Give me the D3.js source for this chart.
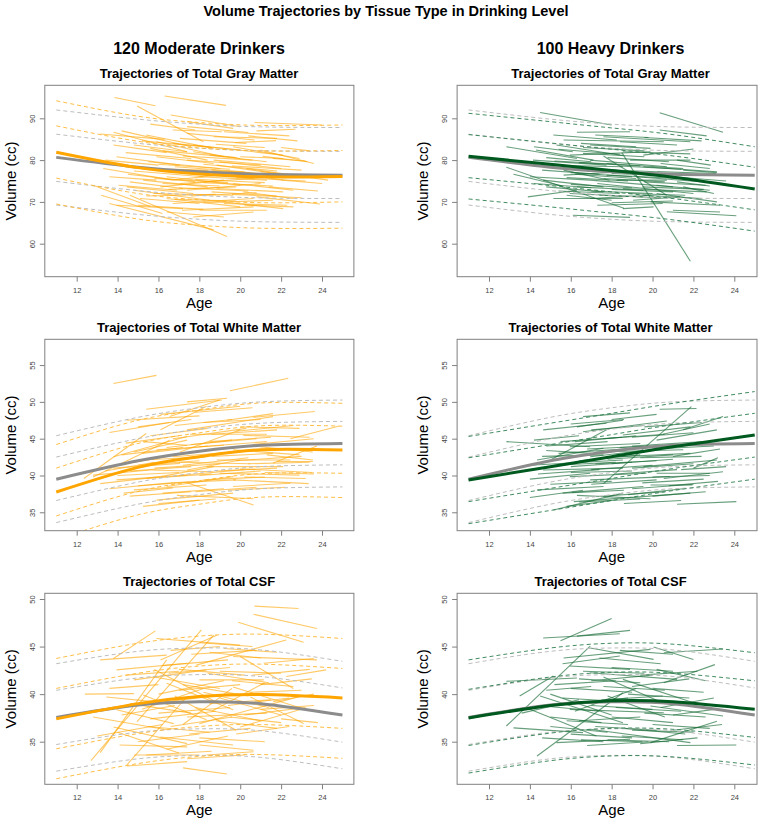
<!DOCTYPE html>
<html><head><meta charset="utf-8">
<script src="https://cdn.jsdelivr.net/npm/d3@7"></script>
<style>body{margin:0;background:#fff} svg{display:block} text{font-family:"Liberation Sans",Arial,Helvetica,sans-serif}</style>
</head><body><svg id="c" width="771" height="824"></svg>
<script>
// ---------- DATA ----------
const mainTitle = "Volume Trajectories by Tissue Type in Drinking Level";
const groupTitles = ["120 Moderate Drinkers", "100 Heavy Drinkers"];
const tissueTitles = ["Trajectories of Total Gray Matter", "Trajectories of Total White Matter", "Trajectories of Total CSF"];
const xTicks = [12, 14, 16, 18, 20, 22, 24];
const yTicksGM = [60, 70, 80, 90];
const yTicksWM = [35, 40, 45, 50, 55];
const yTicksCSF = [35, 40, 45, 50];
const curveAges = [11, 15, 18, 21, 25];

// reference (gray) mean and dashed bands per tissue
const gmRefMean = [80.66, 78.3, 77.2, 76.6, 76.4];
const gmRefBands = [[92.0, 89.8, 88.6, 87.95, 87.8], [86.2, 84.0, 82.85, 82.25, 82.1], [74.9, 72.7, 71.55, 70.95, 70.8], [69.25, 67.0, 65.85, 65.25, 65.1]];
const wmRefMean = [39.5, 42.0, 43.3, 44.1, 44.35];
const wmRefBands = [[45.4, 47.9, 49.2, 50.0, 50.25], [42.5, 45.0, 46.3, 47.1, 47.35], [36.6, 39.1, 40.4, 41.2, 41.45], [33.6, 36.1, 37.4, 38.2, 38.45]];
const csfRefMean = [37.55, 38.85, 39.2, 39.0, 37.8];
const csfRefBands = [[43.2, 44.5, 44.85, 44.65, 43.45], [40.4, 41.7, 42.05, 41.85, 40.65], [34.7, 36.0, 36.35, 36.15, 34.95], [31.9, 33.2, 33.55, 33.35, 32.15]];

// group means and dashed bands
const gmModMean = [81.9, 78.2, 76.7, 76.0, 76.1];
const gmModBands = [[94.2, 90.5, 89.0, 88.3, 88.4], [88.2, 84.5, 82.9, 82.2, 82.3], [75.7, 72.0, 70.5, 69.8, 70.0], [69.5, 65.9, 64.4, 63.7, 63.7]];
const gmHvyMean = [80.9, 79.0, 77.5, 75.9, 73.1];
const gmHvyBands = [[91.2, 89.2, 87.7, 86.1, 83.2], [86.1, 84.1, 82.6, 81.0, 78.3], [75.8, 73.9, 72.4, 70.8, 68.1], [70.7, 68.8, 67.3, 65.7, 63.0]];
const wmModMean = [37.75, 41.1, 42.55, 43.5, 43.45];
const wmModBands = [[44.2, 47.5, 48.9, 49.85, 49.8], [41.0, 44.35, 45.8, 46.75, 46.7], [34.5, 37.85, 39.3, 40.25, 40.3], [31.3, 34.65, 36.1, 37.05, 37.0]];
const wmHvyMean = [39.4, 41.2, 42.55, 43.9, 45.5];
const wmHvyBands = [[45.3, 47.1, 48.45, 49.8, 51.4], [42.4, 44.2, 45.55, 46.9, 48.45], [36.45, 38.25, 39.6, 40.95, 42.5], [33.45, 35.25, 36.6, 37.95, 39.5]];
const csfModMean = [37.4, 39.0, 39.75, 39.95, 39.6];
const csfModBands = [[43.75, 45.35, 46.1, 46.3, 45.85], [40.6, 42.2, 42.95, 43.15, 42.7], [34.25, 35.85, 36.6, 36.8, 36.4], [31.1, 32.7, 33.45, 33.65, 33.25]];
const csfHvyMean = [37.5, 38.8, 39.3, 39.2, 38.4];
const csfHvyBands = [[43.6, 44.85, 45.35, 45.25, 44.35], [40.5, 41.8, 42.3, 42.2, 41.4], [34.6, 35.9, 36.4, 36.3, 35.45], [31.7, 33.0, 33.5, 33.4, 32.55]];

// individual trajectories: [age1, vol1, age2, vol2]
const gmModSegs = [
[13.85,95.0,15.85,93.0],[16.3,95.35,19.3,93.1],[14.95,92.95,18.2,84.4],[16.6,90.8,20.0,88.0],[17.4,89.2,19.65,87.6],
[20.7,89.0,24.0,88.4],[20.8,87.0,22.7,87.4],[16.7,87.2,19.1,86.8],[17.4,86.4,20.7,84.8],[19.75,84.2,21.75,84.65],
[13.15,86.25,16.3,84.95],[13.8,86.65,17.4,82.0],[14.2,87.0,17.6,83.2],[15.4,86.0,18.7,82.8],[15.9,84.4,19.2,80.8],
[16.7,84.0,20.0,82.4],[17.7,83.6,22.1,81.2],[19.65,83.2,22.9,80.4],[21.0,82.4,23.6,79.2],[21.1,80.9,23.3,79.6],
[20.3,78.0,24.3,75.2],[13.95,80.8,17.05,78.8],[14.1,78.8,18.0,76.8],[15.1,78.0,18.4,77.6],[13.3,78.0,16.7,75.2],
[15.9,80.8,18.7,79.2],[17.4,80.0,21.0,78.8],[18.5,81.2,21.3,79.6],[18.85,78.8,22.9,76.0],[19.35,77.2,22.1,75.2],
[18.0,76.0,21.3,75.2],[17.05,74.4,20.65,75.6],[15.25,75.2,18.4,73.6],[14.45,73.6,17.7,72.0],[13.6,76.0,15.9,75.2],
[12.8,74.0,15.6,68.9],[13.2,71.6,16.2,67.2],[14.8,72.8,18.5,70.4],[15.75,72.0,19.65,71.6],[16.4,70.8,20.0,68.8],
[16.7,69.6,20.65,70.8],[17.15,68.0,20.65,68.8],[17.7,66.4,20.65,67.6],[13.95,69.2,17.2,68.4],[13.6,69.6,18.7,63.3],
[14.6,71.6,19.35,61.7],[18.85,73.2,22.1,72.4],[19.65,74.4,22.6,72.8],[20.15,72.4,22.6,70.8],[20.8,71.2,23.9,69.5],
[18.4,70.4,22.1,68.4],[22.05,75.2,24.0,74.4],[16.4,76.0,20.0,74.0],[15.9,77.6,20.0,76.0],[16.7,75.2,19.65,76.8],
[17.4,72.8,21.0,74.4],[16.1,73.6,19.2,75.2],[18.7,80.0,22.45,78.4],[17.7,82.0,20.0,80.4],[15.6,82.8,18.4,80.0],
[14.8,83.6,17.4,82.0],[17.05,85.2,20.3,84.0],[18.7,85.6,21.8,85.2],[20.0,80.8,22.1,80.4],[14.05,74.0,16.9,72.8],
[15.1,70.8,18.0,69.6],[18.0,68.0,21.3,68.0],[16.0,79.0,19.5,77.8],[17.0,77.6,20.5,77.0],[16.5,73.0,19.8,73.6],
[18.2,74.6,21.6,73.8],[19.0,79.6,22.0,78.0],[14.5,76.6,17.8,74.8],[20.5,76.6,23.4,76.2],[17.6,71.4,20.8,72.2],
[19.2,69.6,22.3,69.2],
[15.2,84.6,18.6,83.0],[16.2,82.2,19.8,80.6],[17.2,81.0,20.6,80.0],[18.2,79.0,21.8,77.4],[14.4,81.8,17.6,80.4],
[15.5,79.6,19.0,78.0],[16.8,78.4,20.2,77.2],[18.6,77.6,22.2,76.4],[19.6,78.6,23.0,77.6],[14.8,77.4,18.2,76.0],
[15.8,75.6,19.4,74.6],[17.8,75.4,21.2,74.6],[19.8,75.8,23.2,75.0],[16.2,74.4,19.0,73.8],[14.6,74.8,17.2,73.2],
[17.0,73.4,20.4,72.6],[18.6,72.4,21.8,71.4],[15.4,71.4,18.8,71.8],[16.8,70.6,19.8,70.2],[18.2,69.8,21.6,70.4],
[19.6,71.8,23.0,71.0],[15.0,69.2,18.2,68.2],[16.4,67.6,19.2,66.4],[20.2,69.2,22.6,68.8],[21.4,73.6,23.8,72.6],
[21.0,77.2,23.6,76.0],[21.6,80.4,23.2,79.8],[22.0,83.0,23.4,82.2],[19.2,86.8,22.4,85.8],[17.4,88.0,20.4,86.6],
[15.6,88.6,17.8,87.2],[20.4,85.8,22.8,84.6],[18.8,83.8,21.2,83.0],[13.8,83.6,16.4,81.8],[13.4,80.0,16.0,78.8]];
const gmHvySegs = [
[14.5,91.4,18.0,88.4],[20.35,91.35,23.45,86.65],[20.35,87.2,22.65,85.8],[16.3,86.65,18.9,86.8],[15.15,86.0,18.25,84.8],
[15.65,84.8,20.55,84.4],[17.6,85.6,21.85,84.4],[16.95,83.6,19.9,82.8],[14.2,83.2,16.1,82.0],[12.85,83.2,16.3,80.4],
[15.3,83.6,18.55,81.1],[18.55,82.0,21.85,81.5],[19.55,81.2,22.0,82.65],[21.2,80.0,22.85,78.8],[20.2,77.25,23.1,76.8],
[18.5,81.8,21.85,55.8],[17.6,81.0,20.7,71.6],[12.85,78.3,18.6,68.5],[13.2,76.6,15.6,73.8],[14.0,76.0,16.95,75.2],
[13.9,71.2,16.3,72.8],[14.8,73.6,17.6,72.4],[15.15,70.8,18.55,70.8],[15.95,72.0,19.55,71.2],[16.1,66.8,18.9,66.3],
[18.55,68.4,20.05,68.8],[19.9,70.0,23.3,69.2],[20.7,67.65,24.1,66.7],[21.0,68.0,23.3,67.6],[20.2,72.0,23.15,70.0],
[21.5,73.6,23.0,72.0],[21.2,74.8,22.8,73.8],[16.95,75.2,21.0,73.6],[17.3,74.4,22.0,72.0],[18.55,73.2,22.65,72.4],
[17.75,76.4,21.35,75.6],[16.3,78.0,20.2,77.2],[14.8,78.8,18.55,78.4],[14.15,80.0,17.75,78.8],[16.95,80.0,20.7,78.4],
[17.75,79.2,21.5,78.0],[18.9,80.0,21.85,80.0],[15.95,81.2,19.9,82.0],[14.3,82.4,17.1,80.0],[15.65,77.6,17.9,75.2],
[14.65,75.2,17.6,73.6],[16.3,73.6,19.55,72.8],[18.25,75.2,20.7,75.2],[19.2,76.0,23.45,74.4],[21.5,77.6,23.15,77.0],
[19.55,78.4,23.15,77.2],[15.65,76.4,18.55,77.2],[16.95,70.8,19.9,71.6],[17.3,69.2,20.5,69.6],[19.05,70.4,21.35,71.2],
[16.5,84.0,19.2,83.2],[18.0,76.8,21.0,76.2],[16.0,77.0,19.0,76.0],[17.0,72.6,20.0,72.0],[19.5,73.6,22.5,73.0],
[15.4,82.6,18.4,81.4],[16.6,81.6,19.6,80.8],[17.8,80.6,20.8,79.6],[15.2,79.8,18.2,79.0],[16.4,79.4,19.4,78.6],
[18.4,78.6,21.4,77.8],[14.6,77.6,17.4,76.6],[16.8,77.4,19.8,76.8],[18.6,77.0,21.8,76.4],[15.8,75.8,18.8,75.0],
[17.6,75.6,20.6,74.8],[19.6,74.8,22.6,74.0],[14.2,74.4,17.0,73.4],[16.0,74.2,19.0,73.4],[18.0,73.0,21.0,72.4],
[15.4,72.6,18.4,72.0],[17.4,71.6,20.4,71.0],[19.6,71.6,22.4,70.8],[15.8,71.6,18.0,70.4],[18.0,69.8,21.0,70.2],
[16.6,83.0,19.6,82.2],[18.4,84.4,21.2,83.6],[17.2,86.0,19.8,85.4],[19.6,85.4,22.4,84.6],[20.4,79.2,22.8,78.0],
[21.0,76.0,23.6,75.0],[14.8,80.6,17.0,79.6],[20.2,74.0,22.8,72.8],[18.8,72.0,21.6,71.6],[16.2,76.6,19.2,75.6]];
const wmModSegs = [
[13.8,52.5,15.9,53.6],[19.5,51.5,22.35,53.2],[15.4,49.0,19.1,50.25],[17.4,50.0,19.35,50.5],[16.1,48.3,20.0,49.4],
[14.45,47.5,18.0,48.1],[13.6,45.85,16.55,47.2],[16.55,48.0,19.0,50.25],[20.65,47.9,23.65,48.7],[19.35,47.5,21.6,48.4],
[17.4,46.2,21.6,48.0],[22.45,45.0,24.8,46.7],[20.0,46.6,22.9,46.4],[20.15,45.45,23.4,45.2],[17.55,45.6,21.3,45.6],
[12.35,39.6,15.4,45.7],[12.8,39.8,16.55,44.8],[13.8,42.55,17.4,45.3],[14.8,43.2,17.4,44.8],[15.25,44.6,17.4,44.1],
[16.7,45.0,20.3,46.4],[18.0,43.9,21.3,44.6],[20.95,43.9,23.55,43.2],[21.3,42.8,23.55,42.1],[21.8,41.9,23.55,41.9],
[19.65,43.5,22.9,42.8],[18.85,42.1,22.45,42.1],[18.35,41.2,22.1,41.2],[17.4,40.75,20.0,42.1],[19.0,40.3,22.9,40.05],
[19.65,39.4,23.35,38.9],[15.6,40.75,18.7,40.5],[13.95,39.4,17.4,40.05],[13.15,38.9,16.1,39.85],[12.8,40.05,15.6,40.75],
[13.8,41.0,17.05,41.65],[14.45,41.65,17.7,43.2],[15.25,42.1,18.35,42.55],[15.9,43.5,19.2,44.1],[16.7,42.55,19.65,43.2],
[16.1,39.85,18.7,41.2],[16.4,38.5,19.65,39.85],[14.8,38.05,18.35,38.7],[14.3,37.6,16.7,38.3],[16.9,37.3,20.65,36.85],
[15.9,36.65,19.65,37.6],[19.65,38.5,22.45,38.95],[17.4,39.0,20.65,36.0],[15.25,35.8,18.0,36.65],[21.6,41.7,23.75,44.0],
[17.05,43.2,20.0,46.2],[16.1,46.2,18.35,49.4],[17.0,41.8,20.5,41.6],[18.0,40.0,21.0,40.6],[15.0,41.4,18.0,42.0],
[18.5,44.6,21.5,45.2],[20.0,40.9,23.5,40.4],
[14.2,42.8,17.2,43.8],[15.2,43.0,18.4,44.0],[16.4,43.8,19.6,44.8],[17.6,44.2,20.8,45.0],[18.6,45.6,21.8,46.2],
[14.6,40.6,17.6,41.2],[15.8,41.0,19.0,41.6],[17.2,41.4,20.4,42.4],[18.6,42.6,21.6,43.0],[19.8,42.0,23.0,42.6],
[14.0,40.0,17.0,40.4],[15.4,39.6,18.6,40.2],[17.0,40.0,20.2,40.8],[18.8,40.6,21.8,41.0],[20.4,41.6,23.4,41.8],
[13.6,38.2,16.6,39.0],[15.0,38.6,18.0,39.2],[16.6,39.0,19.8,39.4],[18.2,39.4,21.2,39.8],[20.2,39.8,23.2,39.6],
[14.6,37.2,17.6,37.8],[16.2,37.6,19.2,38.2],[17.8,37.8,20.8,38.4],[19.4,38.0,22.2,38.4],[16.0,36.2,18.8,36.8],
[14.4,44.4,17.0,45.4],[15.6,45.4,18.4,46.4],[16.8,46.8,19.6,47.6],[18.2,47.2,21.0,47.6],[19.8,46.0,22.6,46.8],
[15.0,46.6,17.6,47.6],[17.8,48.6,20.6,49.2],[20.6,44.2,23.6,45.0],[21.2,40.4,23.6,40.2],[13.4,40.6,15.8,41.8]];
const wmHvySegs = [
[20.35,49.0,22.15,49.1],[16.6,48.0,18.9,48.5],[16.3,46.6,18.55,47.5],[14.65,46.2,17.75,47.1],[16.6,45.95,20.7,47.4],
[18.55,45.5,21.85,46.6],[20.2,44.8,23.15,46.2],[21.5,46.2,23.45,48.0],[18.0,47.6,20.2,48.3],[17.6,38.9,21.9,49.35],
[12.85,44.6,16.95,43.9],[14.0,41.4,18.55,42.1],[14.35,42.1,17.6,43.7],[15.0,42.1,17.75,46.2],[15.95,43.9,19.4,44.35],
[17.25,43.2,21.5,43.5],[18.25,42.55,21.85,43.0],[19.55,41.2,23.15,42.1],[20.2,40.3,22.8,40.3],[14.0,39.5,16.95,40.3],
[14.65,40.75,18.55,41.0],[15.95,39.85,19.7,40.3],[16.95,39.4,20.85,39.85],[14.35,38.05,17.6,38.5],[16.05,37.7,19.55,38.5],
[16.15,36.45,21.85,37.6],[15.15,35.3,18.55,37.6],[16.3,37.3,19.9,36.85],[19.9,38.7,21.95,38.7],[21.2,36.1,24.1,36.45],
[16.95,42.55,19.9,43.5],[20.55,39.6,23.45,40.5],[18.0,41.6,21.0,42.2],[19.0,44.0,22.5,44.6],[21.0,42.6,23.3,43.6],
[17.0,40.8,20.0,41.4],[15.5,44.6,18.5,45.2],[19.5,39.0,22.5,39.5],[14.8,43.4,17.0,43.0],[18.8,37.4,21.5,38.2],
[20.5,45.6,22.8,47.0],[22.0,41.0,23.2,42.4],[16.0,41.2,19.0,41.8],
[14.8,44.0,17.8,44.6],[16.2,44.6,19.2,45.4],[17.6,45.0,20.6,45.6],[19.0,45.2,22.0,45.8],[15.4,43.0,18.6,43.6],
[16.8,43.6,19.8,44.0],[18.4,43.8,21.4,44.2],[20.0,43.6,23.0,44.0],[14.6,42.6,17.6,42.8],[16.4,42.0,19.4,42.8],
[17.8,42.2,21.0,42.8],[19.4,42.4,22.4,42.6],[15.2,41.4,18.2,41.8],[17.2,41.6,20.2,42.0],[19.0,41.0,22.0,41.6],
[14.4,40.2,17.4,40.8],[16.0,40.4,19.0,40.6],[18.2,40.2,21.2,40.8],[20.0,39.8,22.8,40.0],[15.0,38.8,18.0,39.2],
[17.0,38.8,20.2,39.4],[19.0,38.2,22.0,38.8],[15.6,37.6,18.6,38.0],[17.6,37.2,20.6,37.8],[20.0,37.2,22.6,37.8],
[16.4,36.4,19.4,36.8],[14.0,37.0,16.6,38.0],[18.6,36.2,21.4,36.6],[20.8,38.6,23.2,39.2],[21.4,40.8,23.6,41.2],
[16.0,47.0,18.6,47.6],[17.0,46.2,19.6,46.8],[19.6,46.6,22.4,47.2],[14.2,44.8,16.4,45.4],[15.8,35.8,18.0,36.6]];
const csfModSegs = [
[20.7,49.25,22.85,49.0],[20.65,48.4,23.75,46.9],[19.9,47.55,23.1,45.45],[13.8,43.75,15.85,46.65],[12.7,33.0,18.1,46.75],
[13.15,33.85,16.4,43.6],[14.45,32.55,17.4,39.75],[14.95,37.1,18.7,46.2],[15.9,45.85,20.0,45.15],[16.1,43.6,18.85,46.2],
[13.15,43.6,16.4,44.1],[17.85,43.05,22.25,45.7],[19.65,43.95,23.75,43.6],[20.0,43.95,22.6,40.6],[21.15,43.25,23.6,43.75],
[22.25,41.85,24.2,42.55],[13.95,42.55,17.4,43.25],[14.8,41.5,18.35,42.55],[18.0,41.5,21.15,41.5],[12.4,40.0,14.8,40.05],
[13.45,39.7,16.75,39.0],[13.95,38.35,16.75,36.9],[15.6,39.0,19.65,40.05],[17.4,37.6,21.3,38.0],[18.0,36.9,22.9,39.75],
[19.65,40.75,23.25,38.35],[20.5,39.7,23.1,36.9],[12.8,37.6,16.4,36.25],[13.8,36.55,17.4,34.8],[14.1,34.65,17.4,34.45],
[14.45,32.45,17.4,32.9],[14.8,33.6,18.0,33.6],[17.2,32.25,19.35,31.6],[16.1,35.5,19.65,34.65],[18.0,34.65,20.65,34.1],
[18.35,33.6,20.65,33.95],[20.0,36.55,22.9,38.35],[15.25,39.9,18.35,37.3],[16.4,41.15,19.65,38.35],[17.0,40.4,20.0,41.0],
[18.5,39.0,21.5,39.4],[16.0,38.0,19.5,38.6],[19.0,42.4,22.0,42.2],[17.5,35.8,20.5,36.4],[21.0,41.0,23.5,41.6],
[15.5,36.6,18.5,36.0],[19.5,37.6,22.0,37.0],[16.5,42.2,19.5,42.8],[20.5,40.2,23.0,40.4],[18.5,44.4,21.0,43.8],
[15.2,38.4,18.2,40.6],[16.0,40.0,19.2,41.4],[17.2,41.0,20.4,39.8],[18.2,40.2,21.4,38.6],[19.4,38.8,22.4,39.6],
[15.6,37.4,18.8,38.2],[16.6,36.6,19.6,37.6],[17.8,38.6,21.0,37.2],[18.8,37.2,21.8,36.4],[20.2,37.8,23.2,38.6],
[14.6,39.0,17.6,38.0],[15.8,41.8,19.0,40.6],[17.0,42.6,20.2,42.0],[18.4,42.2,21.4,41.2],[19.6,41.4,22.6,40.8],
[16.2,43.0,19.4,43.6],[17.6,44.2,20.8,44.6],[19.2,44.8,21.8,44.4],[14.2,37.8,16.8,38.8],[13.0,35.6,16.2,36.8],
[15.0,35.0,18.0,35.8],[16.4,34.2,19.4,35.6],[18.0,35.4,21.2,35.0],[19.8,35.8,22.4,36.6],[21.0,38.4,23.6,38.8],
[14.0,36.0,17.0,33.8],[15.4,33.6,18.6,34.0],[17.4,33.2,20.2,33.6],[16.8,39.8,19.8,36.2],[18.6,38.2,21.2,41.2],
[15.8,42.6,18.8,39.2],[17.2,36.8,19.6,40.6],[19.0,39.6,22.0,37.8],[20.6,42.0,23.4,42.6],[21.6,39.2,23.6,40.0],
[13.6,40.6,16.0,41.0],[14.4,42.0,17.0,42.4],[16.6,44.6,19.0,45.0],[18.0,45.4,20.6,45.0],[22.0,37.4,23.8,37.0]];
const csfHvySegs = [
[15.5,45.6,18.0,47.95],[14.65,45.9,18.4,46.35],[16.3,46.1,18.9,46.7],[12.85,36.65,16.95,45.05],[14.35,33.5,18.55,40.15],
[13.5,39.8,15.15,41.9],[16.95,44.85,20.05,43.65],[15.65,43.8,19.9,44.7],[20.05,44.95,22.0,43.65],[20.55,44.35,23.45,44.75],
[15.95,42.95,18.9,42.6],[12.85,41.35,16.3,41.7],[16.95,42.25,21.2,41.55],[20.55,41.2,23.05,43.1],[18.55,41.55,22.0,39.1],
[14.5,39.8,18.55,37.0],[14.0,38.4,17.25,35.6],[15.95,38.4,20.55,38.05],[19.9,38.75,23.45,37.7],[13.2,36.45,16.6,35.95],
[15.3,34.9,18.9,35.25],[21.2,34.6,24.1,34.65],[19.9,34.9,23.15,37.15],[16.95,36.3,21.85,34.9],[16.0,40.6,19.0,40.2],
[17.5,39.4,20.5,39.8],[18.0,37.6,21.0,37.0],[16.5,35.2,19.5,35.0],[19.0,36.2,22.0,36.0],[17.0,41.4,20.0,42.0],
[15.0,37.6,17.5,37.0],[18.5,35.6,21.5,35.2],[20.0,40.6,22.5,40.2],[16.2,39.0,18.8,39.6],[14.8,40.4,17.0,40.8],
[21.0,37.8,23.0,38.4],
[15.2,41.0,18.2,41.4],[16.4,41.6,19.4,41.2],[17.6,40.8,20.6,40.4],[18.8,40.0,21.8,39.6],[15.6,39.6,18.6,39.2],
[17.0,38.8,20.0,38.4],[18.2,38.6,21.4,38.2],[19.6,38.0,22.6,37.6],[15.8,37.2,18.8,36.8],[17.2,36.6,20.2,36.2],
[18.6,36.4,21.6,35.8],[20.0,36.8,22.8,36.4],[16.0,35.8,19.0,35.4],[17.8,35.2,20.8,35.0],[19.4,34.8,22.2,35.4],
[14.4,38.8,17.4,38.2],[15.0,36.6,17.8,36.0],[16.6,42.4,19.6,42.2],[18.0,42.8,21.0,42.4],[19.4,42.0,22.2,42.4],
[15.6,43.2,18.4,44.0],[17.4,43.8,20.4,43.2],[16.2,38.2,19.2,40.6],[17.8,39.8,20.6,37.6],[15.0,40.0,18.0,37.8],
[19.0,40.8,21.8,41.6],[20.4,38.6,23.0,39.6],[14.6,35.4,17.6,35.0],[16.8,34.6,19.8,35.0],[21.0,36.2,23.4,36.8],
[13.6,38.0,16.4,39.4],[18.4,44.6,21.0,44.2],[20.2,42.6,22.6,41.4],[16.4,37.2,19.4,37.6],[17.6,41.8,20.6,39.0]];

// ---------- LAYOUT / STYLE ----------
const W = 771, H = 824;
const cols = [
  {x12: 76.7, x24: 322, xMax: 760, cx: 199, seg: "#FFA500", segOp: 0.6, mean: "#FFA500", dash: "#FFB733", dashOp: 0.9},
  {x12: 489, x24: 734.3, xMax: 757, cx: 610.5, seg: "#1a6e38", segOp: 0.66, mean: "#005a1f", dash: "#2f7f50", dashOp: 0.9}
];
const rows = [
  {lo: 52.1, hi: 97.9, top: 85.3, bot: 276.7, ticks: yTicksGM, ref: gmRefMean, refB: gmRefBands,
   g: [{m: gmModMean, b: gmModBands, s: gmModSegs}, {m: gmHvyMean, b: gmHvyBands, s: gmHvySegs}]},
  {lo: 32.5, hi: 58.5, top: 339.3, bot: 530.7, ticks: yTicksWM, ref: wmRefMean, refB: wmRefBands,
   g: [{m: wmModMean, b: wmModBands, s: wmModSegs}, {m: wmHvyMean, b: wmHvyBands, s: wmHvySegs}]},
  {lo: 30.52, hi: 50.6, top: 593.3, bot: 784.3, ticks: yTicksCSF, ref: csfRefMean, refB: csfRefBands,
   g: [{m: csfModMean, b: csfModBands, s: csfModSegs}, {m: csfHvyMean, b: csfHvyBands, s: csfHvySegs}]}
];

const svg = d3.select("#c");
svg.append("rect").attr("width", W).attr("height", H).attr("fill", "#fff");

svg.append("text").attr("x", 386).attr("y", 16).attr("text-anchor", "middle")
  .attr("font-size", 14.5).attr("font-weight", "bold").text(mainTitle);
cols.forEach((c, ci) => {
  svg.append("text").attr("x", c.cx).attr("y", 54).attr("text-anchor", "middle")
    .attr("font-size", 16).attr("font-weight", "bold").text(groupTitles[ci]);
});

rows.forEach((r, ri) => {
  cols.forEach((c, ci) => {
    const x = d3.scaleLinear().domain([12, 24]).range([c.x12, c.x24]);
    const y = d3.scaleLinear().domain([r.lo, r.hi]).range([r.bot, r.top]);
    const bl = x(10.44), br = Math.min(x(25.56), c.xMax);
    const id = `clip${ri}${ci}`;
    svg.append("clipPath").attr("id", id).append("rect")
      .attr("x", bl).attr("y", r.top).attr("width", br - bl).attr("height", r.bot - r.top);

    svg.append("text").attr("x", c.cx).attr("y", r.top - 7).attr("text-anchor", "middle")
      .attr("font-size", 13).attr("font-weight", "bold").text(tissueTitles[ri]);

    const g = svg.append("g").attr("clip-path", `url(#${id})`);
    const grp = r.g[ci];
    const line = d3.line().x((d, i) => x(curveAges[i])).y(d => y(d)).curve(d3.curveNatural);

    g.selectAll("line.seg").data(grp.s).join("line").attr("class", "seg")
      .attr("x1", d => x(d[0])).attr("y1", d => y(d[1]))
      .attr("x2", d => x(d[2])).attr("y2", d => y(d[3]))
      .attr("stroke", c.seg).attr("stroke-opacity", c.segOp).attr("stroke-width", 1.1);

    g.selectAll("path.rb").data(r.refB).join("path").attr("class", "rb")
      .attr("d", line).attr("fill", "none").attr("stroke", "#bdbdbd")
      .attr("stroke-width", 1).attr("stroke-dasharray", "4,3");
    g.selectAll("path.gb").data(grp.b).join("path").attr("class", "gb")
      .attr("d", line).attr("fill", "none").attr("stroke", c.dash).attr("stroke-opacity", c.dashOp)
      .attr("stroke-width", 1).attr("stroke-dasharray", "4,3");

    g.append("path").datum(r.ref).attr("d", line).attr("fill", "none")
      .attr("stroke", "#8c8c8c").attr("stroke-width", 3);
    g.append("path").datum(grp.m).attr("d", line).attr("fill", "none")
      .attr("stroke", c.mean).attr("stroke-width", 3);

    svg.append("rect").attr("x", bl).attr("y", r.top).attr("width", br - bl).attr("height", r.bot - r.top)
      .attr("fill", "none").attr("stroke", "#808080").attr("stroke-width", 1);

    const xa = svg.append("g").attr("transform", `translate(0,${r.bot})`)
      .call(d3.axisBottom(x).tickValues(xTicks).tickSize(5).tickPadding(5.5).tickSizeOuter(0));
    xa.select(".domain").remove();
    xa.selectAll("line").attr("stroke", "#808080");
    xa.selectAll("text").attr("font-size", 7.5).attr("fill", "#444")
      .attr("font-family", "'Liberation Sans',Arial,sans-serif");

    const ya = svg.append("g").attr("transform", `translate(${bl},0)`)
      .call(d3.axisLeft(y).tickValues(r.ticks).tickSize(5).tickSizeOuter(0));
    ya.select(".domain").remove();
    ya.selectAll("line").attr("stroke", "#808080");
    ya.selectAll("text").attr("x", null).attr("dy", "0.35em").attr("text-anchor", "middle")
      .attr("transform", "translate(-12.5,0) rotate(-90)")
      .attr("font-size", 7.5).attr("fill", "#444")
      .attr("font-family", "'Liberation Sans',Arial,sans-serif");

    svg.append("text").attr("x", (c.x12 + c.x24) / 2).attr("y", r.bot + 31)
      .attr("text-anchor", "middle").attr("font-size", 15).text("Age");
    svg.append("text").attr("transform", `translate(${bl - 34},${(r.top + r.bot) / 2}) rotate(-90)`)
      .attr("dy", "0.35em").attr("text-anchor", "middle").attr("font-size", 15).text("Volume (cc)");
  });
});
</script></body></html>
